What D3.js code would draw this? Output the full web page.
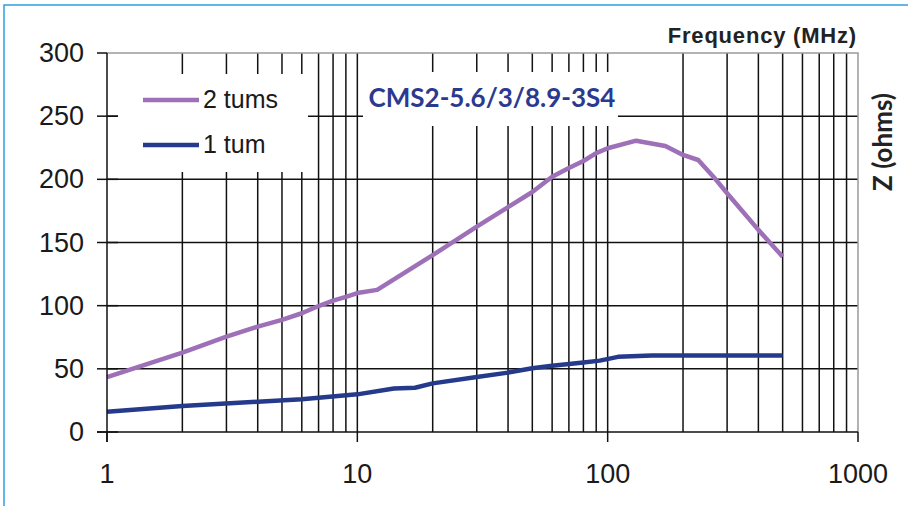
<!DOCTYPE html>
<html>
<head>
<meta charset="utf-8">
<script src="https://cdn.jsdelivr.net/npm/d3@7"></script>
<style>
  body { margin: 0; background: #fff; }
  svg { display: block; }
</style>
</head>
<body>
<svg id="chart" width="908" height="506"></svg>
<script>
// Impedance vs frequency, CMS2-5.6/3/8.9-3S4 common-mode choke
const freqTwoTurns = [1, 2, 3, 4, 5, 6, 7, 8, 9, 10, 12, 20, 30, 40, 50, 60, 70, 80, 90, 100, 130, 170, 200, 230, 270, 300, 400, 500];
const zTwoTurns    = [43.5, 62.8, 75.5, 83.4, 88.7, 94, 99.7, 104, 107, 110, 112.5, 140, 162.5, 178, 190, 202, 209, 214.5, 220.8, 224.6, 230.6, 226.4, 219.3, 215.3, 200, 189, 160, 138.8];

const freqOneTurn = [1, 2, 4, 6, 10, 14, 17, 20, 30, 40, 50, 60, 80, 93, 110, 150, 500];
const zOneTurn    = [16, 20.6, 24, 26, 29.8, 34.5, 35, 38.5, 43.5, 47, 50.5, 52.5, 55, 56.5, 59.5, 60.5, 60.5];

const seriesNames = ["2 tums", "1 tum"];
const seriesColors = ["#9d70b8", "#263a8c"];

const yTicks = [0, 50, 100, 150, 200, 250, 300];
const xTicks = [1, 10, 100, 1000];
const xTickLabels = ["1", "10", "100", "1000"];

const titleText = "CMS2-5.6/3/8.9-3S4";
const xTitle = "Frequency (MHz)";
const yTitle = "Z (ohms)";

const svg = d3.select("#chart");

const L = 107, R = 858, T = 53, B = 432;
const x = d3.scaleLog().domain([1, 1000]).range([L, R]);
const y = d3.scaleLinear().domain([0, 300]).range([B, T]);

// outer frame (top and left only)
svg.append("path")
  .attr("d", `M4,506 L4,5 L908,5`)
  .attr("fill", "none").attr("stroke", "#2aa0dc").attr("stroke-width", 1.5);

// minor/major vertical grid lines
const gridX = [];
for (let d = 1; d <= 100; d *= 10) for (let k = 1; k <= 9; k++) {
  const v = k * d;
  if (v > 1 && v < 1000) gridX.push(v);
}
const grid = svg.append("g").attr("stroke", "#111").attr("stroke-width", 1.5);
grid.selectAll("line.vx").data(gridX).join("line")
  .attr("x1", d => x(d)).attr("x2", d => x(d))
  .attr("y1", T).attr("y2", B);
grid.selectAll("line.hy").data(yTicks.filter(v => v > 0 && v < 300)).join("line")
  .attr("x1", L).attr("x2", R)
  .attr("y1", d => y(d)).attr("y2", d => y(d));

// plot frame, top and right in grey
svg.append("path")
  .attr("d", `M${L},${T} L${R},${T} L${R},${B}`)
  .attr("fill", "none").attr("stroke", "#9a9a9a").attr("stroke-width", 1.5);

// white panels behind legend and title
svg.append("rect").attr("x", 118).attr("y", 74).attr("width", 190).attr("height", 98).attr("fill", "#fff");
svg.append("rect").attr("x", 363).attr("y", 72).attr("width", 255).attr("height", 54).attr("fill", "#fff");

// series
const line = d3.line().x(d => x(d[0])).y(d => y(d[1]));
const series = [
  d3.zip(freqTwoTurns, zTwoTurns),
  d3.zip(freqOneTurn, zOneTurn)
];
svg.selectAll("path.series").data(series).join("path")
  .attr("class", "series")
  .attr("d", line)
  .attr("fill", "none")
  .attr("stroke", (d, i) => seriesColors[i])
  .attr("stroke-width", 4.5)
  .attr("stroke-linejoin", "round");

// axes
const axes = svg.append("g").attr("stroke", "#111").attr("stroke-width", 1.5);
axes.append("line").attr("x1", L).attr("x2", L).attr("y1", T).attr("y2", B + 10);
axes.append("line").attr("x1", L - 10).attr("x2", R).attr("y1", B).attr("y2", B);
axes.selectAll("line.yt").data(yTicks).join("line")
  .attr("x1", L - 10).attr("x2", d => d === 300 ? L : L + 11)
  .attr("y1", d => y(d)).attr("y2", d => y(d));
axes.selectAll("line.xt").data(xTicks).join("line")
  .attr("x1", d => x(d)).attr("x2", d => x(d))
  .attr("y1", B).attr("y2", B + 10);

// tick labels
svg.append("g").selectAll("text").data(yTicks).join("text")
  .attr("x", 84).attr("y", d => y(d))
  .attr("text-anchor", "end").attr("dominant-baseline", "central")
  .attr("font-family", "Liberation Sans, Arial, sans-serif")
  .attr("font-size", 27).attr("fill", "#1a1a1a")
  .text(d => d);

svg.append("g").selectAll("text").data(xTicks).join("text")
  .attr("x", d => x(d)).attr("y", 483)
  .attr("text-anchor", "middle")
  .attr("font-family", "Liberation Sans, Arial, sans-serif")
  .attr("font-size", 27).attr("fill", "#1a1a1a")
  .text((d, i) => xTickLabels[i]);

// axis titles
svg.append("text")
  .attr("x", 857).attr("y", 43).attr("text-anchor", "end")
  .attr("font-family", "Liberation Sans, Arial, sans-serif")
  .attr("font-weight", "bold").attr("font-size", 22).attr("fill", "#222")
  .attr("letter-spacing", 0.8)
  .text(xTitle);

svg.append("text")
  .attr("transform", "translate(892,142) rotate(-90)")
  .attr("text-anchor", "middle")
  .attr("font-family", "Lato, sans-serif")
  .attr("font-weight", "bold").attr("font-size", 26).attr("fill", "#222")
  .text(yTitle);

// chart title
svg.append("text")
  .attr("x", 492).attr("y", 107).attr("text-anchor", "middle")
  .attr("font-family", "Lato, sans-serif")
  .attr("font-weight", "bold").attr("font-size", 26).attr("fill", "#2b3a8f")
  .text(titleText);

// legend
const legend = svg.append("g");
const legendY = [100, 145];
legend.selectAll("line").data(seriesNames).join("line")
  .attr("x1", 143).attr("x2", 199)
  .attr("y1", (d, i) => legendY[i]).attr("y2", (d, i) => legendY[i])
  .attr("stroke", (d, i) => seriesColors[i]).attr("stroke-width", 4.5);
legend.selectAll("text").data(seriesNames).join("text")
  .attr("x", 203).attr("y", (d, i) => legendY[i] + 8)
  .attr("font-family", "Liberation Sans, Arial, sans-serif")
  .attr("font-size", 25).attr("fill", "#1a1a1a")
  .text(d => d);
</script>
</body>
</html>
